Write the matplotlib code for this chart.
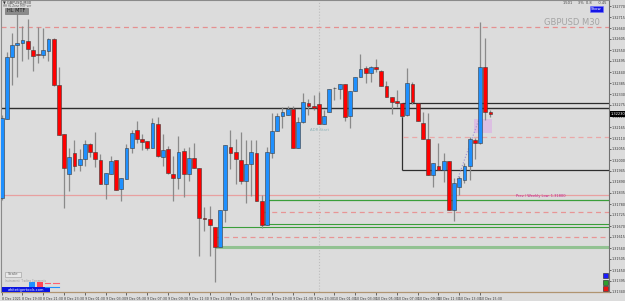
import matplotlib
matplotlib.use("Agg")
import matplotlib.pyplot as plt
import numpy as np
from matplotlib.patches import Rectangle
from matplotlib.ticker import MultipleLocator, FormatStrFormatter

# GBPUSD M30 bars
opens = [1.31810, 1.32205, 1.32515, 1.32575, 1.32585, 1.32595, 1.32550, 1.32530, 1.32525, 1.32545,
         1.32605, 1.32375, 1.32130, 1.31930, 1.32035, 1.31975, 1.32005, 1.32080, 1.32040, 1.32000,
         1.31880, 1.31930, 1.32000, 1.31855, 1.31905, 1.32060, 1.32150, 1.32105, 1.32095, 1.32060,
         1.32180, 1.32015, 1.32055, 1.31930, 1.31910, 1.32045, 1.31930, 1.32010, 1.31960, 1.31710,
         1.31705, 1.31665, 1.31565, 1.31750, 1.32065, 1.32040, 1.32000, 1.31895, 1.31980, 1.32035,
         1.31795, 1.31675, 1.32035, 1.32145, 1.32220, 1.32225, 1.32255, 1.32060, 1.32190, 1.32285,
         1.32270, 1.32280, 1.32180, 1.32240, 1.32360, 1.32355, 1.32380, 1.32220, 1.32345, 1.32415,
         1.32460, 1.32435, 1.32465, 1.32445, 1.32370, 1.32315, 1.32295, 1.32285, 1.32225, 1.32380,
         1.32285, 1.32185, 1.32105, 1.31925, 1.31970, 1.31950, 1.31995, 1.31750, 1.31865, 1.31900,
         1.31970, 1.32100, 1.32085, 1.32465, 1.32240]
highs = [1.32225, 1.32540, 1.32635, 1.32730, 1.32670, 1.32705, 1.32570, 1.32665, 1.32660, 1.32610,
         1.32610, 1.32465, 1.32130, 1.32060, 1.32100, 1.32055, 1.32100, 1.32085, 1.32140, 1.32030,
         1.31935, 1.32020, 1.32000, 1.31910, 1.32080, 1.32150, 1.32195, 1.32130, 1.32095, 1.32210,
         1.32215, 1.32130, 1.32070, 1.32020, 1.32120, 1.32060, 1.32065, 1.32085, 1.31960, 1.31765,
         1.31770, 1.31665, 1.31750, 1.32075, 1.32150, 1.32105, 1.32140, 1.32100, 1.32100, 1.32100,
         1.31825, 1.32065, 1.32235, 1.32235, 1.32265, 1.32270, 1.32270, 1.32215, 1.32335, 1.32305,
         1.32325, 1.32340, 1.32250, 1.32355, 1.32365, 1.32380, 1.32380, 1.32345, 1.32415, 1.32530,
         1.32470, 1.32470, 1.32505, 1.32450, 1.32395, 1.32315, 1.32350, 1.32285, 1.32460, 1.32390,
         1.32285, 1.32240, 1.32235, 1.31985, 1.32085, 1.32035, 1.31995, 1.31910, 1.31920, 1.31985,
         1.32115, 1.32110, 1.32690, 1.32610, 1.32250]
lows = [1.31800, 1.32205, 1.32375, 1.32415, 1.32495, 1.32505, 1.32445, 1.32485, 1.32510, 1.32495,
        1.32370, 1.32125, 1.31760, 1.31845, 1.31945, 1.31945, 1.31970, 1.32015, 1.31965, 1.31880,
        1.31805, 1.31930, 1.31850, 1.31795, 1.31905, 1.32035, 1.32085, 1.32050, 1.32050, 1.32060,
        1.32015, 1.31970, 1.31930, 1.31795, 1.31855, 1.31815, 1.31895, 1.31960, 1.31520, 1.31645,
        1.31520, 1.31390, 1.31565, 1.31690, 1.31955, 1.31880, 1.31880, 1.31785, 1.31820, 1.31795,
        1.31660, 1.31675, 1.32010, 1.32145, 1.32160, 1.32225, 1.32060, 1.32060, 1.32185, 1.32225,
        1.32250, 1.32180, 1.32180, 1.32240, 1.32300, 1.32305, 1.32195, 1.32160, 1.32345, 1.32415,
        1.32385, 1.32390, 1.32440, 1.32370, 1.32315, 1.32230, 1.32265, 1.32215, 1.32220, 1.32280,
        1.32195, 1.32105, 1.31925, 1.31865, 1.31950, 1.31890, 1.31750, 1.31695, 1.31825, 1.31885,
        1.31900, 1.32005, 1.32080, 1.32200, 1.32215]
closes = [1.32210, 1.32515, 1.32575, 1.32585, 1.32600, 1.32555, 1.32520, 1.32525, 1.32550, 1.32605,
          1.32375, 1.32125, 1.31960, 1.32015, 1.31970, 1.32005, 1.32080, 1.32040, 1.32005, 1.31880,
          1.31935, 1.31995, 1.31850, 1.31910, 1.32060, 1.32135, 1.32105, 1.32090, 1.32060, 1.32185,
          1.32020, 1.32050, 1.31935, 1.31910, 1.32040, 1.31930, 1.32010, 1.31960, 1.31710, 1.31705,
          1.31675, 1.31565, 1.31750, 1.32075, 1.32035, 1.32005, 1.31895, 1.31980, 1.32040, 1.31795,
          1.31675, 1.32040, 1.32145, 1.32220, 1.32240, 1.32255, 1.32060, 1.32190, 1.32290, 1.32270,
          1.32260, 1.32180, 1.32220, 1.32355, 1.32360, 1.32380, 1.32215, 1.32345, 1.32415, 1.32455,
          1.32435, 1.32465, 1.32455, 1.32370, 1.32315, 1.32290, 1.32285, 1.32220, 1.32385, 1.32290,
          1.32195, 1.32105, 1.31925, 1.31985, 1.31950, 1.31995, 1.31750, 1.31885, 1.31910, 1.31970,
          1.32105, 1.32085, 1.32465, 1.32240, 1.32230]

time_labels = ["8 Dec 2021", "8 Dec 19:30", "8 Dec 21:30", "8 Dec 23:30", "9 Dec 01:30",
               "9 Dec 03:30", "9 Dec 05:30", "9 Dec 07:30", "9 Dec 09:30", "9 Dec 11:30",
               "9 Dec 13:30", "9 Dec 15:30", "9 Dec 17:30", "9 Dec 19:30", "9 Dec 21:30",
               "9 Dec 23:30", "10 Dec 01:30", "10 Dec 03:30", "10 Dec 05:30", "10 Dec 07:30",
               "10 Dec 09:30", "10 Dec 11:30", "10 Dec 13:30", "10 Dec 15:30"]

# indicator levels
prev_high = 1.32665
daily_pivot = 1.32260
box_top, box_bottom = 1.32285, 1.31950
box_mid = 1.32115
weekly_low = 1.31800
weekly_low_label = "Prev / Weekly Low: 1.31800"
zone_lines = [1.31825, 1.31740, 1.31678, 1.31665, 1.31615, 1.31565]
last_price = closes[-1]

W, H = 625, 301
BG = '#dcdcdc'
fig = plt.figure(figsize=(W / 100, H / 100), dpi=100)
fig.patch.set_facecolor(BG)
ax = fig.add_axes([1.5 / W, 9 / H, 607.5 / W, 292 / H])
ax.set_facecolor(BG)

o, hi, lo, c = map(np.array, (opens, highs, lows, closes))
idx = np.arange(len(o))
up = c > o
ax.vlines(idx, lo, hi, color='#8a8a8a', lw=0.9, zorder=3)
ax.bar(idx, np.maximum(np.abs(c - o), 0.00002), bottom=np.minimum(o, c), width=0.7,
       color=np.where(up, '#1e90ff', '#ff0000'), edgecolor='#3a3a3a', linewidth=0.4, zorder=4)

ax.set_xlim(-0.038, 116.79)
ax.set_ylim(1.31340, 1.32800)

# levels
dash = (0, (4, 3))
ax.axhline(prev_high, color='#e59090', lw=0.9, ls=dash, zorder=2)
ax.axhline(daily_pivot, color='#2e2e2e', lw=1.0, zorder=2)
ax.axhline(zone_lines[0], color='#e8a0a0', lw=0.9, zorder=2)
ax.hlines([box_top, box_bottom], 77, 130, color='#2e2e2e', lw=0.9, zorder=2)
ax.vlines(77, box_bottom, box_top, color='#2e2e2e', lw=0.9, zorder=2)
ax.hlines(box_mid, 77.2, 130, color='#eaa8a8', lw=0.9, ls=dash, zorder=2)
ax.hlines(weekly_low, 50.6, 130, color='#3a9e3a', lw=0.9, zorder=2)
ax.hlines(zone_lines[1], 50.3, 130, color='#e89595', lw=0.9, ls=dash, zorder=2)
ax.hlines(zone_lines[2], 50.3, 130, color='#3a9e3a', lw=0.8, zorder=2)
ax.hlines(zone_lines[3], 41.6, 130, color='#3a9e3a', lw=0.8, zorder=2)
ax.hlines(zone_lines[4], 41.0, 130, color='#e89595', lw=0.9, ls=dash, zorder=2)
ax.hlines(zone_lines[5], 41.0, 130, color='#92c292', lw=2.2, zorder=2)

ax.text(99, 1.31818, weekly_low_label, color='#c0208c', fontsize=2.6, va='center', ha='left')
ax.text(115.1, 1.32688, 'GBPUSD M30', color='#a4a4a4', fontsize=6, ha='right', va='center')

# session marker
ax.axvline(61.1, color='#bdbdbd', lw=0.8, ls=':', zorder=1)
ax.text(61.1, 1.32150, 'ADR Start', color='#8fb3b8', fontsize=2.8, ha='center', va='center')

# projection box + dotted path
ax.add_patch(Rectangle((90.8, 1.32135), 3.5, 0.0007, facecolor='#dcbfe2', edgecolor='none', zorder=1))
ax.plot([87.6, 91.8], [1.31900, 1.32205], color='#9a90d8', lw=0.8, ls=':', zorder=2)

# axes styling
for s in ('left', 'top'):
    ax.spines[s].set_color('#8a8a8a')
    ax.spines[s].set_linewidth(0.8)
ax.spines['right'].set_color('#707070')
ax.spines['right'].set_linewidth(0.8)
ax.spines['bottom'].set_color('#b09470')
ax.spines['bottom'].set_linewidth(0.9)

ax.yaxis.tick_right()
ax.yaxis.set_major_locator(MultipleLocator(0.00055))
ax.yaxis.set_major_formatter(FormatStrFormatter('%.5f'))
ax.tick_params(axis='y', labelsize=2.45, length=1.5, width=0.5, pad=0.5, colors='#333333')
ax.set_xticks(idx[::4])
ax.set_xticklabels(time_labels, ha='left', fontsize=2.3, color='#333333')
ax.tick_params(axis='x', length=2, width=0.5, pad=1.3, colors='#333333')

# overlay in pixel coordinates for the terminal widgets
ov = fig.add_axes([0, 0, 1, 1])
ov.set_xlim(0, W)
ov.set_ylim(H, 0)
ov.axis('off')
ov.patch.set_alpha(0)

ov.text(3, 2.5, '\u25bc GBPUSD,M30', fontsize=2.6, color='#333333', va='center')
ov.text(3, 5.8, 'HH HL Zone MTF ver', fontsize=2.0, color='#555555', va='center')
ov.add_patch(Rectangle((5, 7.5), 23, 6, facecolor='#8a8a8a', edgecolor='#6a6a6a', lw=0.4))
ov.text(16.5, 10.5, 'HL MTF', fontsize=3.6, color='#1e1e1e', ha='center', va='center')

ov.text(563, 3, '1501     3%  0.8      0.45', fontsize=2.6, color='#444444', va='center')
ov.add_patch(Rectangle((590, 5.5), 13, 6, facecolor='#1414e6', edgecolor='#7070ff', lw=0.4))
ov.text(596.5, 8.5, 'Show', fontsize=2.8, color='white', ha='center', va='center')

ov.add_patch(Rectangle((609.5, 111.2), 15.5, 5.6, facecolor='black', edgecolor='none'))
ov.text(610.5, 114, '%.5f' % last_price, fontsize=2.6, color='white', va='center')

for yy, col in zip((273, 279.5, 286), ('#1a1aff', '#2e9e2e', '#ee1111')):
    ov.add_patch(Rectangle((602.7, yy), 5, 5, facecolor=col, edgecolor='#222222', lw=0.4))

ov.add_patch(Rectangle((5, 271.5), 16, 5.5, facecolor='#e8e8e8', edgecolor='#9a9a9a', lw=0.4))
ov.text(13, 274.3, 'Scale', fontsize=2.8, color='#666666', ha='center', va='center')
ov.text(5, 281, 'Instrument  Trading Comments', fontsize=1.9, color='#9a9a9a', va='center')
ov.add_patch(Rectangle((29, 281.5), 6, 5.5, facecolor='#1e90ff', edgecolor='none'))
ov.add_patch(Rectangle((37, 281.5), 6, 5.5, facecolor='#ff4455', edgecolor='none'))
ov.plot([45, 50], [283, 283], color='#ff6070', lw=0.8)
ov.plot([53, 59], [283, 283], color='#ff6070', lw=0.8)
ov.plot([45, 59], [287, 287], color='#1e90ff', lw=0.8)
ov.add_patch(Rectangle((2, 287), 48, 5.2, facecolor='#0a14e0', edgecolor='none'))
ov.text(26, 289.6, 'whitetigertools.com', fontsize=2.6, color='white', ha='center', va='center')

fig.savefig('out.png', dpi=100, facecolor=BG)
